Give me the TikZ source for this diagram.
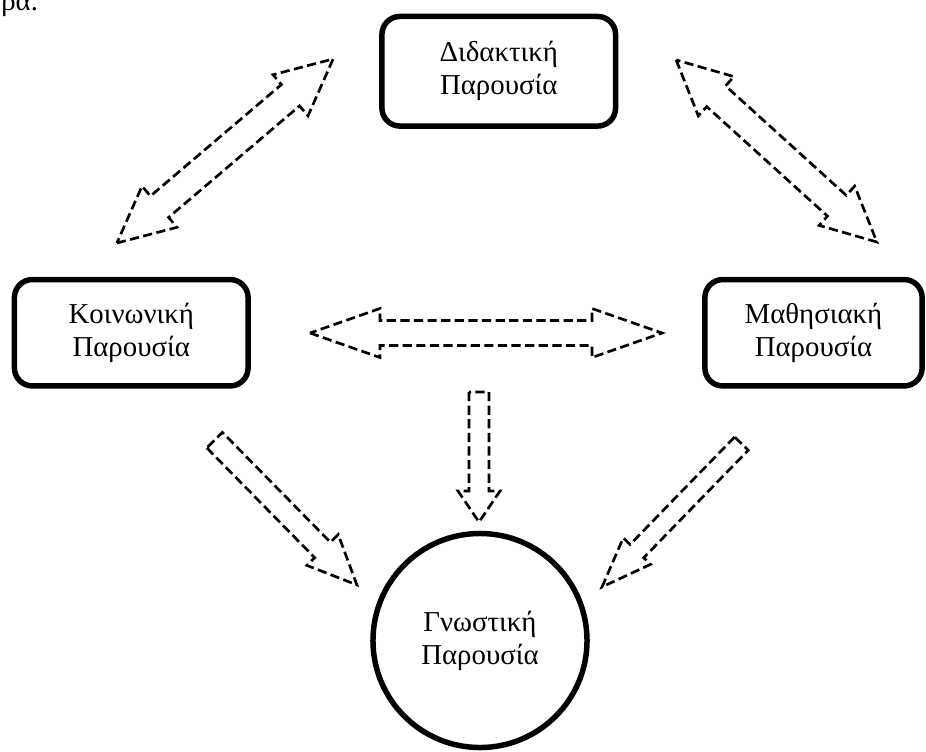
\documentclass[tikz,border=0pt]{standalone}
\usepackage{fontspec}
\setmainfont{Liberation Serif}

% #1 centre, #2 angle, #3 half length, #4 head length, #5 head half width, #6 shaft half width
\newcommand{\twowayarrow}[6]{%
  \begin{scope}[shift={(#1)}, rotate=#2]
    \draw[blockarrow] (-#3,0) -- ({-#3+#4},#5) -- ({-#3+#4},#6) -- ({#3-#4},#6) -- ({#3-#4},#5) -- (#3,0)
      -- ({#3-#4},-#5) -- ({#3-#4},-#6) -- ({-#3+#4},-#6) -- ({-#3+#4},-#5) -- cycle;
  \end{scope}}
\newcommand{\onewayarrow}[6]{%
  \begin{scope}[shift={(#1)}, rotate=#2]
    \draw[blockarrow] (-#3,#6) -- ({#3-#4},#6) -- ({#3-#4},#5) -- (#3,0)
      -- ({#3-#4},-#5) -- ({#3-#4},-#6) -- (-#3,-#6) -- cycle;
  \end{scope}}

\begin{document}
\begin{tikzpicture}[x=0.025cm, y=-0.025cm, font=\fontsize{20.5}{23.5}\selectfont]
    \tikzstyle{presbox}=[draw=black, line width=3.9pt, rounded corners=0.45cm, align=center, inner sep=0pt]
    \tikzstyle{prescircle}=[circle, draw=black, line width=3.9pt, align=center, minimum size=5.35cm, inner sep=0pt]
    \tikzstyle{blockarrow}=[line width=1.9pt, dash pattern=on 0.23cm off 0.11cm, line join=miter]

    \useasboundingbox (0,0) rectangle (926,751);

    \node[anchor=base west, inner sep=0pt] (prev) at (1,10.5) {ρα.};

    \node[presbox, minimum width=5.84cm, minimum height=2.74cm] (did) at (498.75,71.25) {Διδακτική\\Παρουσία};
    \node[presbox, minimum width=5.84cm, minimum height=2.66cm] (koin) at (131.25,332.75) {Κοινωνική\\Παρουσία};
    \node[presbox, minimum width=5.43cm, minimum height=2.66cm] (math) at (813.5,332.75) {Μαθησιακή\\Παρουσία};
    \node[prescircle] (gno) at (480,640.5) {Γνωστική\\Παρουσία};

    \coordinate (koin-did) at (225,151);
    \coordinate (did-math) at (776.5,151);
    \coordinate (koin-math) at (486,333);
    \coordinate (koin-gno) at (285.75,512.5);
    \coordinate (math-gno) at (671.75,515.25);
    \coordinate (mid-gno) at (479,457);

    \twowayarrow{koin-did}{40.4}{142}{56}{27}{14}
    \twowayarrow{did-math}{-42.2}{135.5}{54}{26.5}{14}
    \twowayarrow{koin-math}{0}{176}{70}{24.5}{12.5}
    \onewayarrow{koin-gno}{-45.5}{101.5}{49}{22}{11}
    \onewayarrow{math-gno}{225.8}{100}{50}{19}{9.5}
    \onewayarrow{mid-gno}{-90}{65}{31}{21}{10}
\end{tikzpicture}
\end{document}
